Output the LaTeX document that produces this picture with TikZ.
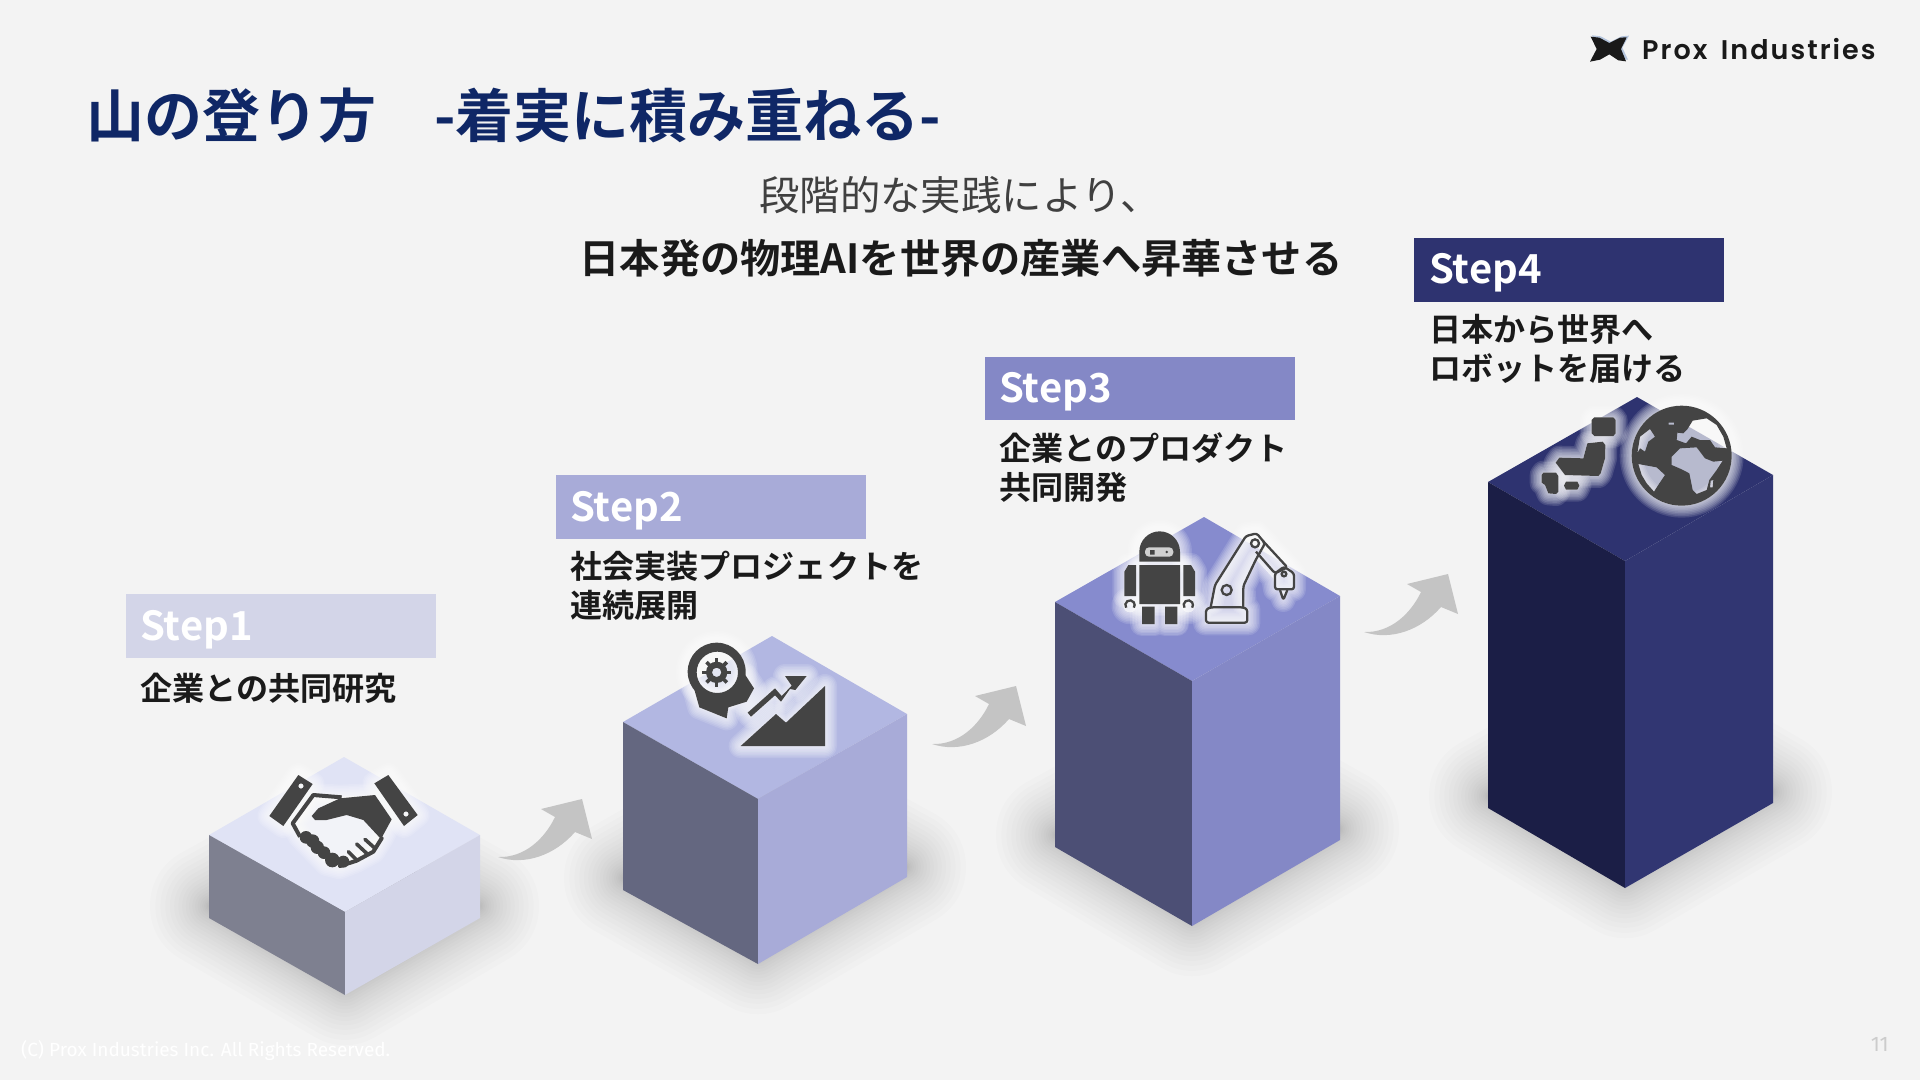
\documentclass[tikz,border=0pt]{standalone}
\usepackage{fontspec}
\setmainfont{Noto Sans CJK JP}[BoldFont={Noto Sans CJK JP Bold}]
\newfontfamily\jpf{Noto Sans CJK JP}[BoldFont={Noto Sans CJK JP Bold}]
\newfontfamily\logof{Poppins SemiBold}[LetterSpace=7.5,WordSpace=1.6]
\newfontfamily\footf{Fira Sans}
\definecolor{bgc}{HTML}{F3F3F3}
\definecolor{navy}{HTML}{0F2766}
\definecolor{ink}{HTML}{1A1A1A}
\definecolor{icon}{HTML}{444444}
\definecolor{arrowc}{HTML}{C4C4C4}
\definecolor{logoblue}{HTML}{B4C4DC}
\definecolor{ta}{HTML}{E0E3F5}\definecolor{la}{HTML}{7E8090}\definecolor{ra}{HTML}{D3D5E8}
\definecolor{tb}{HTML}{B2B7E2}\definecolor{lb}{HTML}{646780}\definecolor{rb}{HTML}{A8ABD8}
\definecolor{tc}{HTML}{868BCE}\definecolor{lc}{HTML}{4C4F75}\definecolor{rc}{HTML}{8488C6}
\definecolor{td}{HTML}{2E3370}\definecolor{ld}{HTML}{1B1E46}\definecolor{rd}{HTML}{313672}
\tikzset{
  x=1pt,y=-1pt,
  banner/.style={inner sep=0pt,anchor=north west,minimum width=310pt,minimum height=63.5pt},
  steplabel/.style={inner sep=0pt,anchor=base west,text=white,font=\jpf\bfseries\fontsize{40}{44}\selectfont},
  bodytext/.style={inner sep=0pt,anchor=west,align=left,text=ink,font=\jpf\bfseries\fontsize{32.1}{39}\selectfont},
  flowarrow/.style={fill=arrowc,draw=none},
}
% soft shadow of a base polygon: layers crowd near the cube and thin out outward
\newcommand{\softshadow}[1]{%
  \foreach \i in {1,...,22}{\pgfmathsetmacro{\w}{2+120*(\i/22)^2}\path[draw=black,fill=black,line width=\w pt,line join=round,opacity=0.0105] #1;}%
}
% soft halo around an icon path
\newcommand{\softhalo}[1]{%
  \foreach \w in {3,6,...,24}{\path[draw=white,fill=white,line width=\w pt,line join=round,opacity=0.13] #1;}%
}
\newcommand{\cube}[4]{%
  \fill[#2] (#1l) -- (#1a) -- (#1r) -- (#1f) -- cycle;
  \fill[#3] (#1l) -- (#1f) -- (#1g) -- (#1m) -- cycle;
  \fill[#4] (#1f) -- (#1r) -- (#1n) -- (#1g) -- cycle;
}
\begin{document}
\begin{tikzpicture}
\useasboundingbox (0,0) rectangle (1920,1080);
\fill[bgc] (0,0) rectangle (1920,1080);

% ---------- shadows
\softshadow{(211,906) -- (345,984) -- (478,906) -- (345,832) -- cycle}
\softshadow{(625,878) -- (758,953) -- (905,867) -- (772,794) -- cycle}
\softshadow{(1057,835) -- (1192,915) -- (1338,829) -- (1204,754) -- cycle}
\softshadow{(1490,796) -- (1625,877) -- (1771,792) -- (1637,714) -- cycle}

% ---------- cube corners
\coordinate (Al) at (209,835); \coordinate (Aa) at (344,757); \coordinate (Ar) at (480,835);
\coordinate (Af) at (345,912); \coordinate (Ag) at (345,995); \coordinate (Am) at (209,918); \coordinate (An) at (480,918);
\coordinate (Bl) at (623,722); \coordinate (Ba) at (772,636); \coordinate (Br) at (907,714);
\coordinate (Bf) at (758,799); \coordinate (Bg) at (758,964); \coordinate (Bm) at (623,890); \coordinate (Bn) at (907,877);
\coordinate (Cl) at (1055,602); \coordinate (Ca) at (1204,517); \coordinate (Cr) at (1340,596);
\coordinate (Cf) at (1192,681); \coordinate (Cg) at (1192,926); \coordinate (Cm) at (1055,847); \coordinate (Cn) at (1340,840);
\coordinate (Dl) at (1488,482); \coordinate (Da) at (1637,397); \coordinate (Dr) at (1773,475);
\coordinate (Df) at (1625,561); \coordinate (Dg) at (1625,888); \coordinate (Dm) at (1488,808); \coordinate (Dn) at (1773,803);
\cube{A}{ta}{la}{ra}
\cube{B}{tb}{lb}{rb}
\cube{C}{tc}{lc}{rc}
\cube{D}{td}{ld}{rd}

% ---------- flow arrows
\foreach \dx/\dy in {0/0,434/-113,866/-225}{
  \begin{scope}[shift={(\dx,\dy)}]
  \fill[flowarrow] (498,857) .. controls (525,858) and (545,838) .. (555,817) -- (541,809) -- (582,799) -- (592,839) -- (575,832)
     .. controls (555,855) and (525,866) .. (498,857) -- cycle;
  \end{scope}
}

% ---------- handshake icon
\begin{scope}[shift={(200,740)},scale=1/3]
\def\cuffL{(295,105) -- (338,132) -- (250,258) -- (208,228) -- cycle}
\def\cuffR{(565,105) -- (523,130) -- (612,258) -- (653,225) -- cycle}
\def\hand{(340,165) -- (278,250) -- (300,290) -- (380,372) -- (420,382) -- (470,362) -- (520,335) -- (545,295) -- (575,238) -- (525,165) -- (420,170) -- cycle}
\softhalo{\cuffL} \softhalo{\cuffR} \softhalo{\hand}
\fill[icon,even odd rule] \cuffL (303,138) circle (8);
\fill[icon,even odd rule] \cuffR (618,222) circle (8);
\draw[icon,line width=4pt,line join=round] (425,172) -- (340,165) -- (278,250) -- (300,290);
\draw[icon,line width=4pt,line cap=round,line join=round] (420,378) -- (470,362) -- (520,335) -- (545,295);
\draw[icon,line width=3.6pt,line cap=round] (470,360) -- (445,335) (500,340) -- (470,312) (525,325) -- (495,298);
\fill[icon] (335,228) -- (355,205) -- (420,175) -- (525,165) -- (575,238) -- (543,297) -- (490,240) -- (440,225) -- (380,240) -- (345,240) -- cycle;
\foreach \p/\r in {{(318,292)}/19,{(338,303)}/20,{(352,322)}/20,{(372,338)}/19,{(397,360)}/22,{(430,365)}/18}{\fill[icon] \p circle (\r);}
\end{scope}

% ---------- head + growth chart icon
\begin{scope}[shift={(620,620)},scale=1/3]
\def\headp{(290,155) circle (87)}
\def\neck{(222,205) -- (238,262) -- (320,295) -- (325,262) -- (380,245) -- (402,205) -- (376,165) -- (355,205) -- (300,232) -- cycle}
\def\mount{(362,378) -- (468,282) -- (498,308) -- (615,198) -- (615,378) -- cycle}
\def\zig{(383,278) -- (465,205) -- (485,228) -- (515,197) -- (495,168) -- (560,168) -- (526,210) -- (510,207) -- (483,245) -- (465,226) -- (393,290) -- cycle}
\softhalo{\headp} \softhalo{\neck} \softhalo{\mount} \softhalo{\zig}
\fill[icon] \neck;
\fill[icon,even odd rule] \headp (292,157) circle (62);
\fill[icon,even odd rule] (290,157) circle (32) (290,157) circle (14);
\foreach \a in {0,45,...,315}{\draw[icon,line width=3.6pt] (290,157) ++(\a:28) -- ++(\a:15);}
\fill[icon] \mount;
\fill[icon] \zig;
\end{scope}

% ---------- robot + robot arm icon
\begin{scope}[shift={(1080,510)},scale=1/3]
\def\rhead{(178,155) -- (178,125) arc[start angle=180,end angle=360,radius=61] -- (300,155) -- cycle}
\def\rbody{(178,165) rectangle (300,282)}
\def\rarmL{(133,258) -- (133,185) -- (145,165) -- (168,165) -- (168,258) -- cycle}
\def\rarmR{(345,258) -- (345,185) -- (333,165) -- (310,165) -- (310,258) -- cycle}
\def\rlegs{(186,290) rectangle (224,342) (255,290) rectangle (292,342)}
\def\rhands{(150,287) circle (20) (325,287) circle (20)}
\def\armA{(375,340) -- (375,298) -- (393,290) -- (405,225) -- (500,72) -- (530,68) -- (625,170) -- (642,190) -- (642,238) -- (622,240) -- (610,270) -- (600,240) -- (585,238) -- (580,205) -- (530,150) -- (490,230) -- (495,290) -- (505,298) -- (505,340) -- cycle}
\softhalo{\rhead} \softhalo{\rbody} \softhalo{\rarmL} \softhalo{\rarmR} \softhalo{\rlegs} \softhalo{\rhands} \softhalo{\armA}
\fill[icon] \rhead \rbody \rarmL \rarmR \rlegs;
\path[fill=white,opacity=.75,rounded corners=4pt] (195,112) rectangle (280,140);
\fill[icon] (210,120) rectangle (224,134) (260,126) circle (4);
\draw[icon,line width=2.3pt] (138.5,293) arc[start angle=145,end angle=395,radius=14];
\draw[icon,line width=2.3pt] (313.5,293) arc[start angle=145,end angle=395,radius=14];
\begin{scope}[icon,line width=2.3pt,line join=round,rounded corners=2.5pt]
\draw (378,338) -- (378,298) -- (392,292) -- (490,292) -- (502,298) -- (502,338) -- cycle;
\draw (392,292) -- (405,225) -- (498,78) -- (530,70) -- (555,100) -- (527,150) -- (490,228) -- (490,292);
\draw (548,92) -- (622,172) -- (585,190) -- (528,125);
\draw (585,190) -- (612,170) -- (642,190) -- (642,238) -- (585,238) -- cycle;
\draw (600,240) -- (610,270) -- (622,240);
\end{scope}
\draw[icon,line width=2.3pt] (440,240) circle (15) (525,100) circle (12) (612,192) circle (7);
\end{scope}

% ---------- Japan + globe icon
\begin{scope}[shift={(1500,390)},scale=1/3]
\def\hok{(283,82) -- (340,82) -- (347,90) -- (347,130) -- (340,138) -- (283,138) -- (275,130) -- (275,90) -- cycle}
\def\hon{(262,160) -- (308,155) -- (316,165) -- (315,205) -- (302,250) -- (295,258) -- (195,255) -- (167,218) -- (178,203) -- (250,205) -- cycle}
\def\kyu{(130,248) -- (168,248) -- (175,258) -- (175,305) -- (168,312) -- (145,310) -- (135,285) -- (125,278) -- (125,255) -- cycle}
\def\shi{(198,275) -- (232,275) -- (238,287) -- (232,299) -- (198,299) -- (192,287) -- cycle}
\def\globe{(545,197) circle (150)}
\softhalo{\hok} \softhalo{\hon} \softhalo{\kyu} \softhalo{\shi} \softhalo{\globe}
\fill[icon] \hok \hon \kyu \shi;
\fill[icon,even odd rule] \globe
  % Eurasia
  (562,118) -- (578,92) -- (620,85) -- (650,105) -- (670,140) -- (680,175) -- (645,172) -- (630,150) -- (600,150) -- (575,140) -- (558,160) -- (530,150) -- (532,128) -- (550,130) -- cycle
  % Africa
  (515,200) -- (540,175) -- (590,172) -- (615,205) -- (640,215) -- (668,212) -- (650,240) -- (628,270) -- (620,300) -- (590,312) -- (578,300) -- (568,250) -- (545,238) -- (515,225) -- cycle
  % North America
  (412,190) -- (420,140) -- (450,117) -- (465,140) -- (445,155) -- (435,185) -- (420,175) -- cycle
  % South America
  (415,222) -- (470,232) -- (495,255) -- (478,280) -- (462,305) -- (440,280) -- (425,255) -- cycle
  % small islands
  (506,98) -- (522,98) -- (522,104) -- (506,104) -- cycle
  (632,272) -- (640,270) -- (638,292) -- (630,292) -- cycle;
\end{scope}

% ---------- logo
\begin{scope}[shift={(1560,20)},scale=1/3]
\fill[logoblue] (96,46) -- (122,49) -- (152,65) -- (184,49) -- (207,47) -- (187,83) -- (204,119) -- (179,117) -- (152,99) -- (124,115) -- (94,121) -- (114,83) -- cycle;
\fill[black!90] (92,50) -- (118,53) -- (148,69) -- (180,53) -- (200,52) -- (183,87) -- (198,124) -- (175,121) -- (148,103) -- (120,119) -- (90,125) -- (110,87) -- cycle;
\end{scope}
\node[inner sep=0pt,anchor=base west,text=black!90,font=\logof\fontsize{27}{30}\selectfont] (logo) at (1642,59) {Prox Industries};

% ---------- title + subtitle
\node[inner sep=0pt,anchor=base west,text=navy,font=\jpf\bfseries\fontsize{58}{62}\selectfont] (title) at (86,137) {山の登り方　-着実に積み重ねる-};
\node[inner sep=0pt,anchor=base west,text=black!75,font=\jpf\fontsize{40.4}{44}\selectfont] (sub1) at (759,210) {段階的な実践により、};
\node[inner sep=0pt,anchor=base,text=ink,font=\jpf\bfseries\fontsize{40.2}{44}\selectfont] (sub2) at (961,273) {日本発の物理AIを世界の産業へ昇華させる};

% ---------- banners
\node[banner,fill=ra] (b1) at (126,594) {};
\node[banner,fill=rb] (b2) at (556,475) {};
\node[banner,fill=rc] (b3) at (985,356.5) {};
\node[banner,fill=td] (b4) at (1414,238) {};
\node[steplabel] (s1) at (140,640) {Step1};
\node[steplabel] (s2) at (570,521) {Step2};
\node[steplabel] (s3) at (999,402) {Step3};
\node[steplabel] (s4) at (1429,283) {Step4};
\node[bodytext] (t1) at (140,688) {企業との共同研究};
\node[bodytext] (t2) at (570,586) {社会実装プロジェクトを\\連続展開};
\node[bodytext] (t3) at (999,468) {企業とのプロダクト\\共同開発};
\node[bodytext] (t4) at (1429,349) {日本から世界へ\\ロボットを届ける};

% ---------- footer
\node[inner sep=0pt,anchor=base west,text=white,font=\footf\fontsize{19}{22}\selectfont] (foot) at (21,1056) {(C) Prox Industries Inc. All Rights Reserved.};
\node[inner sep=0pt,anchor=base east,text=black!20,font=\footf\fontsize{21}{24}\selectfont] (page) at (1889,1051) {11};
\end{tikzpicture}
\end{document}
